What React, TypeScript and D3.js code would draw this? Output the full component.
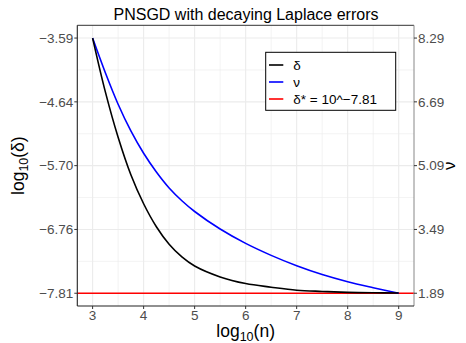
import * as d3 from 'd3'

// log10(n) grid where the curves were read
const logN = [3, 3.25, 3.5, 3.75, 4, 4.25, 4.5, 4.75, 5, 5.5, 6, 6.5, 7, 7.5, 8, 8.5, 9]
// log10(delta) values (left axis)
const logDelta = [-3.59, -4.48, -5.23, -5.85, -6.33, -6.71, -7.00, -7.21, -7.36, -7.54, -7.65, -7.71, -7.76, -7.78, -7.795, -7.802, -7.805]
// nu values (right axis)
const nu = [8.29, 7.42, 6.63, 5.96, 5.40, 4.93, 4.53, 4.21, 3.94, 3.50, 3.14, 2.84, 2.58, 2.36, 2.18, 2.03, 1.89]
const deltaStar = -7.81

const xTicks = [3, 4, 5, 6, 7, 8, 9]
const leftTicks = [-3.59, -4.645, -5.70, -6.755, -7.81]
const leftLabels = ['\u22123.59', '\u22124.64', '\u22125.70', '\u22126.76', '\u22127.81']
const rightTicks = [8.29, 6.69, 5.09, 3.49, 1.89]
const rightLabels = ['8.29', '6.69', '5.09', '3.49', '1.89']

const legendItems = [
  { label: '\u03b4', color: '#000000' },
  { label: '\u03bd', color: '#0000ff' },
  { label: '\u03b4* = 10^\u22127.81', color: '#ff0000' },
]

const W = 466, H = 343
const left = 77.3, right = 414, top = 25.3, bottom = 306
const font = '"Liberation Sans", Arial, sans-serif'

function App() {
  const x = d3.scaleLinear().domain([2.7, 9.3]).range([left, right])
  const yL = d3.scaleLinear().domain([-3.379, -8.021]).range([top, bottom])
  const yR = d3.scaleLinear().domain([8.29, 1.89]).range([yL(-3.59), yL(-7.81)])

  const deltaLine = d3.line<number>().x((d, i) => x(logN[i])).y(d => yL(d)).curve(d3.curveCatmullRom.alpha(0.5))
  const nuLine = d3.line<number>().x((d, i) => x(logN[i])).y(d => yR(d)).curve(d3.curveCatmullRom.alpha(0.5))

  // minor grid halfway between major breaks
  const xMinor = d3.range(2.5, 9.6, 1).filter(v => x(v) > left && x(v) < right)
  const step = leftTicks[0] - leftTicks[1]
  const yMinor = d3.range(-6, 6).map(k => leftTicks[0] - step / 2 - k * step)
    .filter(v => yL(v) > top && yL(v) < bottom)

  return (
    <svg width={W} height={H} style={{ position: 'absolute', left: 0, top: 0, background: '#fff' }} fontFamily={font}>
      <rect width={W} height={H} fill="#fff" />
      {/* grid */}
      {xMinor.map(v => <line key={'xm' + v} x1={x(v)} x2={x(v)} y1={top} y2={bottom} stroke="#ebebeb" strokeWidth={0.6} />)}
      {yMinor.map(v => <line key={'ym' + v} x1={left} x2={right} y1={yL(v)} y2={yL(v)} stroke="#ebebeb" strokeWidth={0.6} />)}
      {xTicks.map(v => <line key={'xg' + v} x1={x(v)} x2={x(v)} y1={top} y2={bottom} stroke="#ebebeb" strokeWidth={1.1} />)}
      {leftTicks.map(v => <line key={'yg' + v} x1={left} x2={right} y1={yL(v)} y2={yL(v)} stroke="#ebebeb" strokeWidth={1.1} />)}

      {/* data */}
      <line x1={left} x2={right} y1={yL(deltaStar)} y2={yL(deltaStar)} stroke="#ff0000" strokeWidth={1.6} />
      <path d={nuLine(nu) || ''} fill="none" stroke="#0000ff" strokeWidth={1.6} />
      <path d={deltaLine(logDelta) || ''} fill="none" stroke="#000000" strokeWidth={1.6} />

      {/* frame */}
      <line x1={left} x2={right} y1={top} y2={top} stroke="#333" strokeWidth={1} />
      <line x1={right} x2={right} y1={top} y2={bottom} stroke="#888" strokeWidth={1} />
      <line x1={left} x2={left} y1={top} y2={bottom} stroke="#222" strokeWidth={1.1} />
      <line x1={left} x2={right} y1={bottom} y2={bottom} stroke="#222" strokeWidth={1.1} />

      {/* x axis */}
      {xTicks.map(v => (
        <g key={'xt' + v}>
          <line x1={x(v)} x2={x(v)} y1={bottom} y2={bottom + 3} stroke="#333" />
          <text x={x(v)} y={bottom + 14} textAnchor="middle" fontSize={13.5} fill="#4d4d4d">{v}</text>
        </g>
      ))}
      <text x={(left + right) / 2} y={337} textAnchor="middle" fontSize={17.5} fill="#000">
        log<tspan fontSize={12.5} dy={4}>10</tspan><tspan dy={-4}>(n)</tspan>
      </text>

      {/* left axis */}
      {leftTicks.map((v, i) => (
        <g key={'lt' + v}>
          <line x1={left - 3} x2={left} y1={yL(v)} y2={yL(v)} stroke="#333" />
          <text x={left - 4} y={yL(v) + 4.7} textAnchor="end" fontSize={13.5} fill="#4d4d4d">{leftLabels[i]}</text>
        </g>
      ))}
      <text transform={`translate(24,${(top + bottom) / 2}) rotate(-90)`} textAnchor="middle" fontSize={17.5} fill="#000">
        log<tspan fontSize={12.5} dy={4}>10</tspan><tspan dy={-4}>(δ)</tspan>
      </text>

      {/* right axis */}
      {rightTicks.map((v, i) => (
        <g key={'rt' + v}>
          <line x1={right} x2={right + 3} y1={yR(v)} y2={yR(v)} stroke="#333" />
          <text x={right + 4} y={yR(v) + 4.7} textAnchor="start" fontSize={13.5} fill="#4d4d4d">{rightLabels[i]}</text>
        </g>
      ))}
      <text transform={`translate(455,${(top + bottom) / 2}) rotate(-90)`} textAnchor="middle" fontSize={17} fill="#000">ν</text>

      {/* title */}
      <text x={246} y={20} textAnchor="middle" fontSize={16} fill="#000">PNSGD with decaying Laplace errors</text>

      {/* legend */}
      <rect x={265.7} y={52.3} width={130} height={58} fill="#fff" stroke="#000" strokeWidth={1} />
      {legendItems.map((d, i) => (
        <g key={d.label} transform={`translate(0,${65 + i * 17})`}>
          <line x1={269} x2={283.3} y1={0} y2={0} stroke={d.color} strokeWidth={1.6} />
          <text x={293.3} y={5} fontSize={13.5} fill="#000">{d.label}</text>
        </g>
      ))}
    </svg>
  )
}

export default App
